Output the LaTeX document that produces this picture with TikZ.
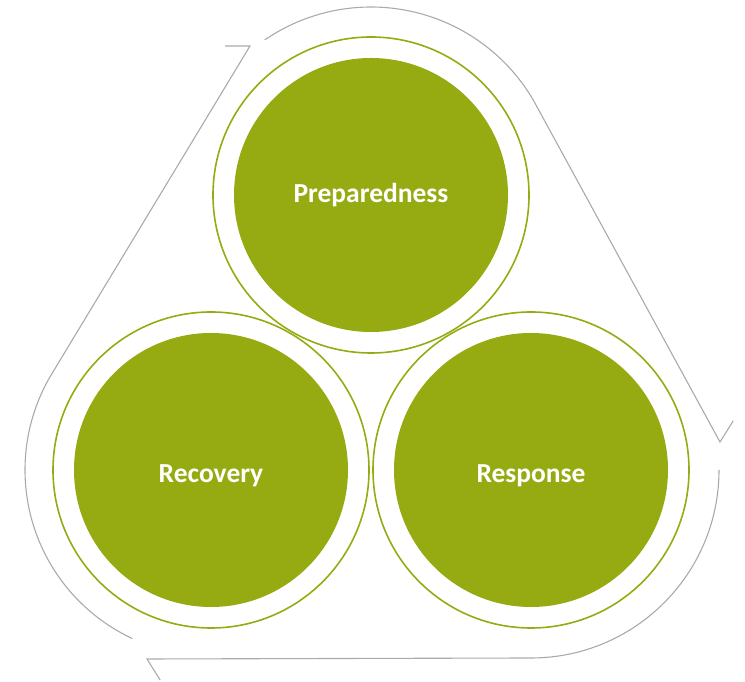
\documentclass[tikz,border=0pt]{standalone}
\usepackage{fontspec}
\setmainfont{Carlito}
\usetikzlibrary{calc}
\definecolor{phasegreen}{RGB}{150,171,18}
\definecolor{cyclegray}{RGB}{170,170,170}
\tikzset{
        phase/.style={circle, fill=phasegreen, minimum size=274pt, inner sep=0pt,
                text=white, font=\bfseries\fontsize{27.5}{30}\selectfont}, % the three filled discs
        ring/.style={draw=phasegreen, line width=1.6pt},
        cycle line/.style={draw=cyclegray, line width=1.1pt},
    }

\begin{document}
\begin{tikzpicture}[x=1pt, y=1pt]
    \useasboundingbox (0,0) rectangle (745,682);
    \node [phase] (prep) at (371,487) {Preparedness};
    \node [phase] (reco) at (211,212) {\raisebox{-6pt}[\height][\depth]{Recovery}};
    \node [phase] (resp) at (531,212) {\raisebox{-6pt}[\height][\depth]{Response}};
    \foreach \n in {prep,reco,resp}
        \draw [ring] (\n) circle [radius=158];
    % open ends of the cycle
    \coordinate (end1) at (720,240);
    \coordinate (end2) at (147,23);
    \coordinate (end3) at (250,636);
    \draw [cycle line] ($(prep)+(124.4:188)$) arc [start angle=124.4, end angle=30, radius=188]
        -- (end1) -- ++(58:25);
    \draw [cycle line] ($(resp)+(0:188)$) arc [start angle=0, end angle=-90, radius=188]
        -- (end2) -- ++(-58:25);
    \draw [cycle line] ($(reco)+(245:186)$) arc [start angle=245, end angle=150, radius=186]
        -- (end3) -- ++(180:25);
\end{tikzpicture}
\end{document}
